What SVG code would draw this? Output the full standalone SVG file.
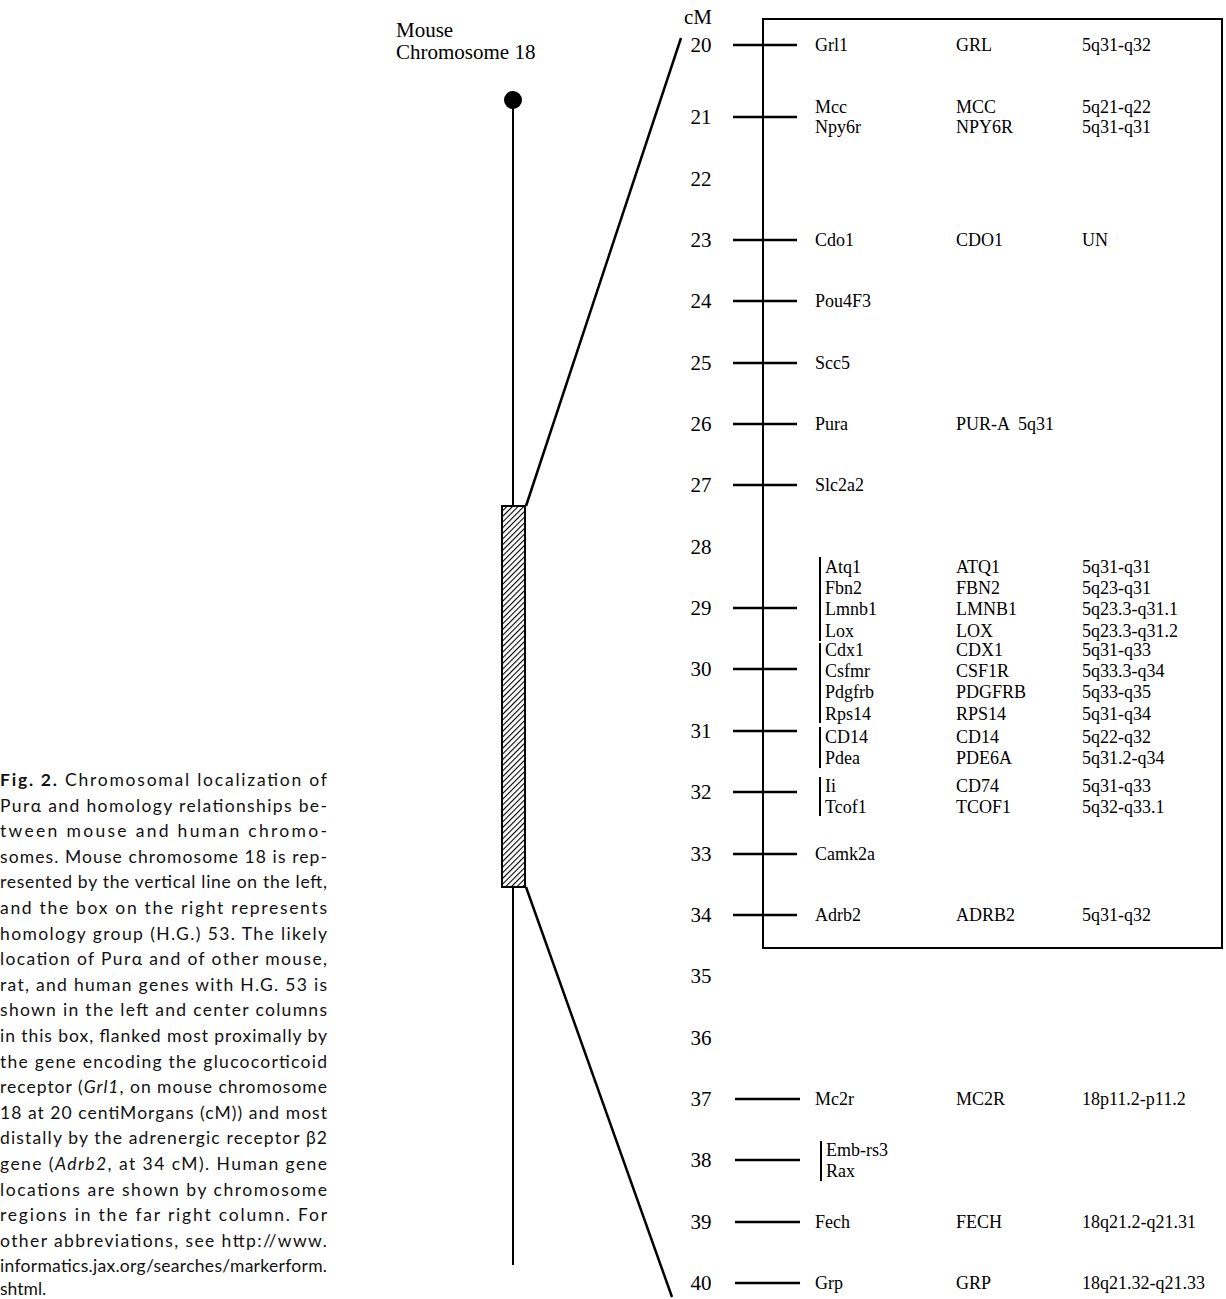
<svg xmlns="http://www.w3.org/2000/svg" width="1226" height="1299" viewBox="0 0 1226 1299">
<defs>
<pattern id="hatch" patternUnits="userSpaceOnUse" width="4" height="4" patternTransform="rotate(45)">
<rect width="4" height="4" fill="#fff"/>
<line x1="0" y1="0" x2="0" y2="4" stroke="#000" stroke-width="2.2"/>
</pattern>
<style>
.cap{font-family:Lato,"Open Sans",sans-serif;font-size:17.5px;fill:#111}
.num{font-family:"Liberation Serif",serif;font-size:21px;fill:#000;text-anchor:middle}
.lbl{font-family:"Liberation Serif",serif;font-size:21px;fill:#000}
.g{font-family:"Liberation Serif",serif;font-size:18px;fill:#000}
.tk{stroke:#000;stroke-width:2.5}
.br{stroke:#000;stroke-width:2}
.ln{stroke:#000;stroke-width:2.5;fill:none}
</style>
</defs>
<rect width="1226" height="1299" fill="#fff"/>

<g id="caption" class="cap">
<text x="0" y="786" textLength="327" lengthAdjust="spacing"><tspan font-weight="bold">Fig. 2.</tspan>  Chromosomal localization of</text>
<text x="0" y="812" textLength="327" lengthAdjust="spacing">Purα and homology relationships be-</text>
<text x="0" y="837" textLength="327" lengthAdjust="spacing">tween mouse and human chromo-</text>
<text x="0" y="863" textLength="327" lengthAdjust="spacing">somes. Mouse chromosome 18 is rep-</text>
<text x="0" y="888" textLength="327" lengthAdjust="spacing">resented by the vertical line on the left,</text>
<text x="0" y="914" textLength="327" lengthAdjust="spacing">and the box on the right represents</text>
<text x="0" y="940" textLength="327" lengthAdjust="spacing">homology group (H.G.) 53. The likely</text>
<text x="0" y="965" textLength="327" lengthAdjust="spacing">location of Purα and of other mouse,</text>
<text x="0" y="991" textLength="327" lengthAdjust="spacing">rat, and human genes with H.G. 53 is</text>
<text x="0" y="1016" textLength="327" lengthAdjust="spacing">shown in the left and center columns</text>
<text x="0" y="1042" textLength="327" lengthAdjust="spacing">in this box, flanked most proximally by</text>
<text x="0" y="1068" textLength="327" lengthAdjust="spacing">the gene encoding the glucocorticoid</text>
<text x="0" y="1093" textLength="327" lengthAdjust="spacing">receptor (<tspan font-style="italic">Grl1</tspan>, on mouse chromosome</text>
<text x="0" y="1119" textLength="327" lengthAdjust="spacing">18 at 20 centiMorgans (cM)) and most</text>
<text x="0" y="1144" textLength="327" lengthAdjust="spacing">distally by the adrenergic receptor β2</text>
<text x="0" y="1170" textLength="327" lengthAdjust="spacing">gene (<tspan font-style="italic">Adrb2</tspan>, at 34 cM). Human gene</text>
<text x="0" y="1196" textLength="327" lengthAdjust="spacing">locations are shown by chromosome</text>
<text x="0" y="1221" textLength="327" lengthAdjust="spacing">regions in the far right column. For</text>
<text x="0" y="1247" textLength="327" lengthAdjust="spacing">other abbreviations, see http://www.</text>
<text x="0" y="1272" textLength="327" lengthAdjust="spacing">informatics.jax.org/searches/markerform.</text>
<text x="0" y="1295">shtml.</text>
</g>

<g id="chromosome">
<text class="lbl" x="396" y="37">Mouse</text>
<text class="lbl" x="396" y="59">Chromosome 18</text>
<circle cx="513" cy="100" r="9" fill="#000"/>
<line x1="513" y1="100" x2="513" y2="1265" stroke="#000" stroke-width="2"/>
<rect x="502" y="506" width="23" height="381" fill="url(#hatch)" stroke="#000" stroke-width="2"/>
</g>

<g id="connectors">
<line class="ln" x1="526" y1="506" x2="681" y2="38"/>
<line class="ln" x1="526" y1="887" x2="672" y2="1297"/>
</g>

<g id="hg53-box">
<rect x="763" y="19" width="459" height="929" fill="none" stroke="#000" stroke-width="2"/>
</g>

<g id="scale">
<text class="num" x="698" y="24">cM</text>
<text class="num" x="701" y="52">20</text>
<text class="num" x="701" y="124">21</text>
<text class="num" x="701" y="186">22</text>
<text class="num" x="701" y="247">23</text>
<text class="num" x="701" y="308">24</text>
<text class="num" x="701" y="370">25</text>
<text class="num" x="701" y="431">26</text>
<text class="num" x="701" y="492">27</text>
<text class="num" x="701" y="554">28</text>
<text class="num" x="701" y="615">29</text>
<text class="num" x="701" y="676">30</text>
<text class="num" x="701" y="738">31</text>
<text class="num" x="701" y="799">32</text>
<text class="num" x="701" y="861">33</text>
<text class="num" x="701" y="922">34</text>
<text class="num" x="701" y="983">35</text>
<text class="num" x="701" y="1045">36</text>
<text class="num" x="701" y="1106">37</text>
<text class="num" x="701" y="1167">38</text>
<text class="num" x="701" y="1229">39</text>
<text class="num" x="701" y="1290">40</text>
<line class="tk" x1="733" y1="45" x2="797" y2="45"/>
<line class="tk" x1="733" y1="117" x2="797" y2="117"/>
<line class="tk" x1="733" y1="240" x2="797" y2="240"/>
<line class="tk" x1="733" y1="301" x2="797" y2="301"/>
<line class="tk" x1="733" y1="363" x2="797" y2="363"/>
<line class="tk" x1="733" y1="424" x2="797" y2="424"/>
<line class="tk" x1="733" y1="485" x2="797" y2="485"/>
<line class="tk" x1="733" y1="608" x2="797" y2="608"/>
<line class="tk" x1="733" y1="669" x2="797" y2="669"/>
<line class="tk" x1="733" y1="731" x2="797" y2="731"/>
<line class="tk" x1="733" y1="792" x2="797" y2="792"/>
<line class="tk" x1="733" y1="854" x2="797" y2="854"/>
<line class="tk" x1="733" y1="915" x2="797" y2="915"/>
<line class="tk" x1="735" y1="1099" x2="800" y2="1099"/>
<line class="tk" x1="735" y1="1160" x2="800" y2="1160"/>
<line class="tk" x1="735" y1="1222" x2="800" y2="1222"/>
<line class="tk" x1="735" y1="1283" x2="800" y2="1283"/>
</g>

<g id="brackets">
<line class="br" x1="820" y1="557" x2="820" y2="641"/>
<line class="br" x1="820" y1="643" x2="820" y2="723"/>
<line class="br" x1="820" y1="727" x2="820" y2="768"/>
<line class="br" x1="820" y1="777" x2="820" y2="816"/>
<line class="br" x1="821" y1="1141" x2="821" y2="1181"/>
</g>

<g id="genes" class="g">
<g id="row20"><text x="815" y="51">Grl1</text><text x="956" y="51">GRL</text><text x="1082" y="51">5q31-q32</text></g>
<g id="row21"><text x="815" y="113">Mcc</text><text x="956" y="113">MCC</text><text x="1082" y="113">5q21-q22</text>
<text x="815" y="133">Npy6r</text><text x="956" y="133">NPY6R</text><text x="1082" y="133">5q31-q31</text></g>
<g id="row23"><text x="815" y="246">Cdo1</text><text x="956" y="246">CDO1</text><text x="1082" y="246">UN</text></g>
<g id="row24"><text x="815" y="307">Pou4F3</text></g>
<g id="row25"><text x="815" y="369">Scc5</text></g>
<g id="row26"><text x="815" y="430">Pura</text><text x="956" y="430" xml:space="preserve">PUR-A  5q31</text></g>
<g id="row27"><text x="815" y="491">Slc2a2</text></g>
<g id="row29"><text x="825" y="573">Atq1</text><text x="956" y="573">ATQ1</text><text x="1082" y="573">5q31-q31</text>
<text x="825" y="594">Fbn2</text><text x="956" y="594">FBN2</text><text x="1082" y="594">5q23-q31</text>
<text x="825" y="615">Lmnb1</text><text x="956" y="615">LMNB1</text><text x="1082" y="615">5q23.3-q31.1</text>
<text x="825" y="637">Lox</text><text x="956" y="637">LOX</text><text x="1082" y="637">5q23.3-q31.2</text></g>
<g id="row30"><text x="825" y="656">Cdx1</text><text x="956" y="656">CDX1</text><text x="1082" y="656">5q31-q33</text>
<text x="825" y="677">Csfmr</text><text x="956" y="677">CSF1R</text><text x="1082" y="677">5q33.3-q34</text>
<text x="825" y="698">Pdgfrb</text><text x="956" y="698">PDGFRB</text><text x="1082" y="698">5q33-q35</text>
<text x="825" y="720">Rps14</text><text x="956" y="720">RPS14</text><text x="1082" y="720">5q31-q34</text></g>
<g id="row31"><text x="825" y="743">CD14</text><text x="956" y="743">CD14</text><text x="1082" y="743">5q22-q32</text>
<text x="825" y="764">Pdea</text><text x="956" y="764">PDE6A</text><text x="1082" y="764">5q31.2-q34</text></g>
<g id="row32"><text x="825" y="792">Ii</text><text x="956" y="792">CD74</text><text x="1082" y="792">5q31-q33</text>
<text x="825" y="813">Tcof1</text><text x="956" y="813">TCOF1</text><text x="1082" y="813">5q32-q33.1</text></g>
<g id="row33"><text x="815" y="860">Camk2a</text></g>
<g id="row34"><text x="815" y="921">Adrb2</text><text x="956" y="921">ADRB2</text><text x="1082" y="921">5q31-q32</text></g>
<g id="row37"><text x="815" y="1105">Mc2r</text><text x="956" y="1105">MC2R</text><text x="1082" y="1105">18p11.2-p11.2</text></g>
<g id="row38"><text x="826" y="1156">Emb-rs3</text><text x="826" y="1177">Rax</text></g>
<g id="row39"><text x="815" y="1228">Fech</text><text x="956" y="1228">FECH</text><text x="1082" y="1228">18q21.2-q21.31</text></g>
<g id="row40"><text x="815" y="1289">Grp</text><text x="956" y="1289">GRP</text><text x="1082" y="1289">18q21.32-q21.33</text></g>
</g>
</svg>
